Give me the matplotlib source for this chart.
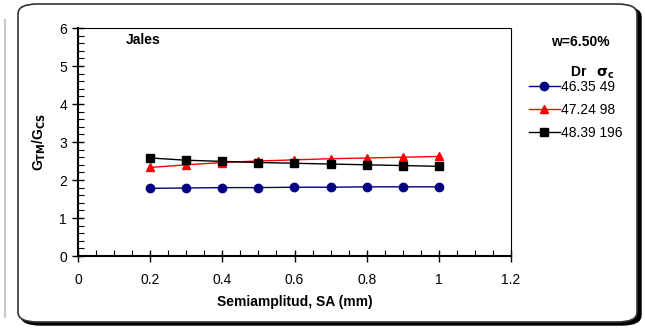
import matplotlib.pyplot as plt
import numpy as np
from matplotlib.patches import FancyBboxPatch
from matplotlib.lines import Line2D
from matplotlib.ticker import MultipleLocator

plt.rcParams['font.family'] = ['Liberation Sans', 'DejaVu Sans']

sa = [0.2, 0.3, 0.4, 0.5, 0.6, 0.7, 0.8, 0.9, 1.0]
g_49 = [1.78, 1.79, 1.80, 1.80, 1.81, 1.81, 1.82, 1.82, 1.82]
g_98 = [2.33, 2.40, 2.46, 2.50, 2.53, 2.56, 2.58, 2.60, 2.62]
g_196 = [2.58, 2.52, 2.49, 2.46, 2.44, 2.42, 2.40, 2.38, 2.36]
labels = ["46.35 49", "47.24 98", "48.39 196"]

W, H = 645, 328
fig = plt.figure(figsize=(W / 100, H / 100), dpi=100)

# frame with shadow
shadow = FancyBboxPatch((21 / W, 3 / H), 620 / W, 318 / H,
                        boxstyle="round,pad=0,rounding_size=0.03",
                        transform=fig.transFigure, facecolor='black',
                        edgecolor='black', lw=1, zorder=0)
box = FancyBboxPatch((18 / W, 6 / H), 619 / W, 318 / H,
                     boxstyle="round,pad=0,rounding_size=0.03",
                     transform=fig.transFigure, facecolor='white',
                     edgecolor='#333333', lw=1.2, zorder=0.5)
fig.patches.extend([shadow, box])
fig.add_artist(Line2D([5 / W, 5 / W], [11 / H, 308 / H], color='#c8c8c8', lw=1.5,
                      transform=fig.transFigure))

ax = fig.add_axes([78 / W, 1 - 256 / H, (511 - 78) / W, (256 - 28) / H])
ax.set_zorder(2)
ax.patch.set_alpha(0)

h1, = ax.plot(sa, g_49, color='#000080', marker='o', ms=6, lw=1, label=labels[0])
h2, = ax.plot(sa, g_98, color='red', marker='^', ms=6, lw=1, label=labels[1])
h3, = ax.plot(sa, g_196, color='black', marker='s', ms=6, lw=1, label=labels[2])

ax.set_xlim(0, 1.2)
ax.set_ylim(0, 6)
ax.set_xticks(np.arange(0, 1.21, 0.2))
ax.set_xticklabels(['0', '0.2', '0.4', '0.6', '0.8', '1', '1.2'])
ax.xaxis.set_minor_locator(MultipleLocator(0.05))
ax.yaxis.set_major_locator(MultipleLocator(1))
ax.yaxis.set_minor_locator(MultipleLocator(0.2))
ax.tick_params(which='major', direction='inout', length=8, width=1, labelsize=10, pad=4)
ax.tick_params(which='minor', direction='in', length=4, width=0.8)
ax.tick_params(axis='x', which='major', pad=8)
for s in ['left', 'bottom']:
    ax.spines[s].set_linewidth(1.5)
for s in ['top', 'right']:
    ax.spines[s].set_linewidth(0.8)

ax.set_xlabel('Semiamplitud, SA (mm)', fontsize=10, fontweight='bold', labelpad=6)
ax.set_ylabel(r'G$_{\mathbf{TM}}$/G$_{\mathbf{CS}}$', fontsize=10, fontweight='bold', labelpad=8)
ax.text(0.11, 0.93, 'Jales', transform=ax.transAxes, fontsize=10, fontweight='bold')

fig.text(580 / W, 1 - 42 / H, 'w=6.50%', fontsize=10, fontweight='bold', ha='center', va='center')
fig.text(592 / W, 1 - 73 / H, r'Dr   $\mathbf{\sigma_c}$', fontsize=10, fontweight='bold',
         ha='center', va='center')
fig.legend(handles=[h1, h2, h3], loc='upper left', bbox_to_anchor=(529 / W, 1 - 80 / H),
           frameon=False, fontsize=10, handlelength=2.2, handletextpad=0.1,
           labelspacing=0.65, borderaxespad=0, borderpad=0)

fig.savefig('out.png', dpi=100)
